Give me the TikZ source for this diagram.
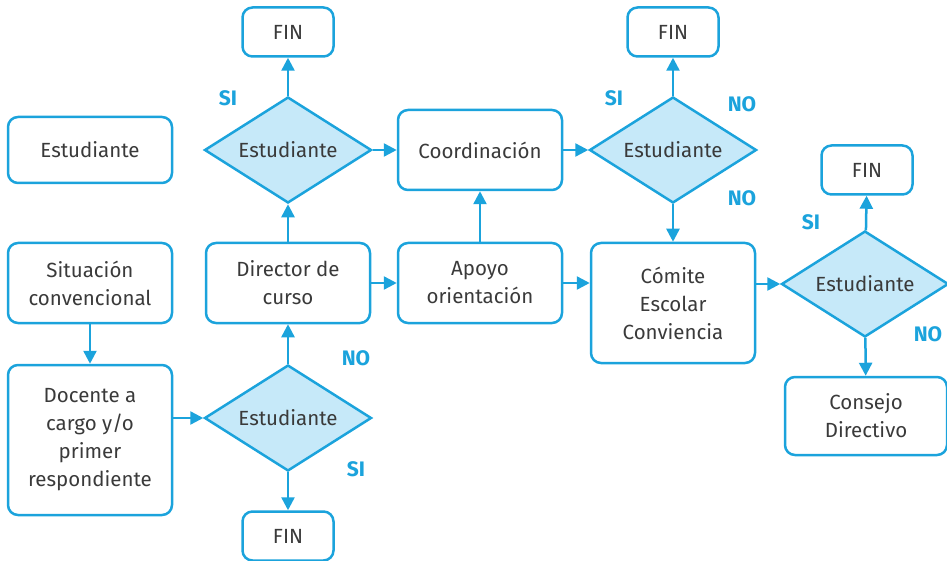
\documentclass[tikz,border=0pt]{standalone}
\usepackage{fontspec}
\setmainfont{Fira Sans}
\usetikzlibrary{shapes.geometric,arrows.meta}
\definecolor{flowblue}{HTML}{1BA3DC}
\definecolor{flowfill}{HTML}{C6E9F9}
\definecolor{flowtext}{HTML}{3A3A3A}

\begin{document}
\begin{tikzpicture}[x=1pt, y=-1pt,
  box/.style={draw=flowblue, line width=2.5pt, rounded corners=10pt, text=flowtext, align=center, inner sep=0pt, font=\fontsize{20.5}{28}\selectfont},
  choice/.style={diamond, draw=flowblue, fill=flowfill, line width=2.5pt, text=flowtext, inner sep=0pt, minimum width=167pt, minimum height=106pt, aspect=1.58, font=\fontsize{20.5}{28}\selectfont},
  flow/.style={draw=flowblue, line width=2.5pt, -{Triangle[length=13pt,width=13pt]}},
  answer/.style={text=flowblue, font=\bfseries\fontsize{21}{21}\selectfont}]
\useasboundingbox (0,0) rectangle (947,561);

\node[box, minimum width=164pt, minimum height=66pt] (alumno) at (90,150) {Estudiante}; %lone box
\node[box, minimum width=164pt, minimum height=80pt] (situacion) at (90,283) {Situación\\convencional};
\node[box, minimum width=164pt, minimum height=150pt] (docente) at (90,440) {Docente a\\cargo y/o\\primer\\respondiente};

\node[choice] (pregunta1) at (288,150) {Estudiante}; %upper left diamond
\node[choice] (pregunta4) at (288,418) {Estudiante}; %lower left diamond
\node[box, minimum width=91pt, minimum height=49pt] (fin1) at (288,32) {FIN};
\node[box, minimum width=91pt, minimum height=49pt] (fin4) at (288,536) {FIN};
\node[box, minimum width=164pt, minimum height=80pt] (director) at (288,283) {Director de\\curso};

\node[box, minimum width=164pt, minimum height=80pt] (coordinacion) at (480,150) {Coordinación};
\node[box, minimum width=164pt, minimum height=80pt] (apoyo) at (480,283) {Apoyo\\orientación};

\node[choice] (pregunta2) at (673,150) {Estudiante}; %upper right diamond
\node[box, minimum width=91pt, minimum height=49pt] (fin2) at (673,32) {FIN};
\node[box, minimum width=164pt, minimum height=120pt] (comite) at (673,303) {Cómite\\Escolar\\Conviencia};

\node[choice] (pregunta3) at (865,284) {Estudiante}; %right diamond
\node[box, minimum width=91pt, minimum height=49pt] (fin3) at (867,170) {FIN};
\node[box, minimum width=162pt, minimum height=78pt] (consejo) at (866,416) {Consejo\\Directivo};

%answers
\node[answer] (si1) at (228,98) {SI};
\node[answer] (si2) at (614,98) {SI};
\node[answer] (no2a) at (742,104) {NO};
\node[answer] (no2b) at (742,198) {NO};
\node[answer] (si3) at (811,222) {SI};
\node[answer] (no3) at (928,334) {NO};
\node[answer] (no4) at (356,358) {NO};
\node[answer] (si4) at (356,469) {SI};

%connectors
\draw[flow] (situacion) -- (docente);
\draw[flow] (docente.east |- pregunta4) -- (pregunta4.west);
\draw[flow] (pregunta4) -- (fin4);
\draw[flow] (pregunta4) -- (director);
\draw[flow] (director) -- (pregunta1);
\draw[flow] (pregunta1) -- (fin1);
\draw[flow] (pregunta1) -- (coordinacion);
\draw[flow] (director) -- (apoyo);
\draw[flow] (apoyo) -- (coordinacion);
\draw[flow] (coordinacion) -- (pregunta2);
\draw[flow] (pregunta2) -- (fin2);
\draw[flow] (pregunta2) -- (comite);
\draw[flow] (apoyo.east) -- (apoyo.east -| comite.west);
\draw[flow] (comite.east |- pregunta3) -- (pregunta3.west);
\draw[flow] (pregunta3) -- (fin3);
\draw[flow] (pregunta3) -- (consejo);

\end{tikzpicture}
\end{document}
